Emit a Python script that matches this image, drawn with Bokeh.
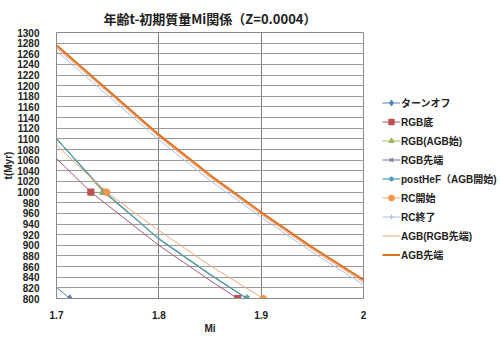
from bokeh.plotting import figure
from bokeh.layouts import row
from bokeh.models import Range1d, FixedTicker, Legend, LegendItem
from bokeh.embed import file_html
from bokeh.resources import INLINE

# ---------------- data ----------------
title_text = "年齢t-初期質量Mi関係（Z=0.0004）"
x_label = "Mi"
y_label = "t(Myr)"
x_ticks = [1.7, 1.8, 1.9, 2.0]
y_ticks = list(range(800, 1301, 20))

names = ["ターンオフ", "RGB底", "RGB(AGB始)", "RGB先端", "postHeF（AGB開始)",
         "RC開始", "RC終了", "AGB(RGB先端)", "AGB先端"]

# curve points (Mi, t)
turnoff_mi = [1.700, 1.713]
turnoff_t = [821, 800]
rgb_base_mi = [1.700, 1.7336, 1.800, 1.850, 1.877]
rgb_base_t = [1063, 1000, 900, 834, 800]
rgb_agb_mi = [1.700, 1.7455, 1.800, 1.850, 1.886]
rgb_agb_t = [1101, 1000, 913, 846, 800]
rgb_tip_mi = [1.700, 1.747, 1.800, 1.850, 1.886]
rgb_tip_t = [1100, 1000, 912, 845, 800]
posthef_mi = [1.700, 1.7475, 1.800, 1.850, 1.886]
posthef_t = [1100, 1000, 912, 845, 800]
rc_start_mi = [1.700, 1.749, 1.800, 1.850, 1.902]
rc_start_t = [1088, 1000, 928, 862, 800]
upper_mi = [1.70, 1.75, 1.80, 1.85, 1.90, 1.95, 2.00]
rc_end_t = [1265, 1182, 1098, 1022, 953, 887, 826]
agb_rgbtip_t = [1271, 1188, 1104, 1028, 958, 892, 831]
agb_tip_t = [1276, 1192, 1108, 1032, 962, 896, 835]

# data-point markers (Mi, t)
turnoff_mk_mi, turnoff_mk_t = [1.713], [800]
rgb_base_mk_mi, rgb_base_mk_t = [1.7336, 1.877], [1000, 800]
rgb_agb_mk_mi, rgb_agb_mk_t = [1.7455, 1.886], [1000, 800]
rgb_tip_mk_mi, rgb_tip_mk_t = [1.747, 1.886], [1000, 800]
posthef_mk_mi, posthef_mk_t = [1.7475, 1.886], [1000, 800]
rc_start_mk_mi, rc_start_mk_t = [1.749, 1.902], [1000, 800]

# ---------------- main figure ----------------
FONT = "Liberation Sans, Noto Sans CJK JP"
TXT = "#222222"
p = figure(width=372, height=339, output_backend="svg", toolbar_location=None,
           x_range=Range1d(1.7, 2.0), y_range=Range1d(800, 1300),
           min_border_left=53, min_border_right=9, min_border_top=32,
           min_border_bottom=41, background_fill_color="white",
           border_fill_color="white", outline_line_color="#8a8a8a")

p.title.text = title_text
p.title.align = "center"
p.title.text_font = "Noto Sans CJK JP"
p.title.text_font_size = "13px"
p.title.text_font_style = "bold"
p.title.text_color = TXT
p.title.standoff = 10

p.xaxis.ticker = FixedTicker(ticks=x_ticks)
p.xaxis.major_label_overrides = {2.0: "2"}
p.yaxis.ticker = FixedTicker(ticks=y_ticks)
for ax in (p.xaxis, p.yaxis):
    ax.major_tick_line_color = None
    ax.minor_tick_line_color = None
    ax.axis_line_color = "#8a8a8a"
    ax.major_label_text_font = FONT
    ax.major_label_text_font_size = "10px"
    ax.major_label_text_font_style = "bold"
    ax.major_label_text_color = TXT
    ax.axis_label_text_font = FONT
    ax.axis_label_text_font_size = "10px"
    ax.axis_label_text_font_style = "bold"
    ax.axis_label_text_color = TXT
p.yaxis.major_label_standoff = 11
p.xaxis.major_label_standoff = 6
p.xaxis.axis_label = x_label
p.xaxis.axis_label_standoff = 1
p.yaxis.axis_label = y_label
p.yaxis.axis_label_standoff = 0

p.xgrid.grid_line_color = "#808080"
p.ygrid.grid_line_color = "#9a9a9a"

# ---------------- legend figure ----------------
lg = figure(width=128, height=339, output_backend="svg", toolbar_location=None,
            x_range=Range1d(0, 1), y_range=Range1d(0, 1),
            x_axis_location=None, y_axis_location=None,
            min_border_left=0, min_border_right=0, min_border_top=0,
            min_border_bottom=0, outline_line_color=None,
            background_fill_color="white", border_fill_color="white")
lg.xgrid.visible = False
lg.ygrid.visible = False

items = []
OFF = [-10.0]  # off-frame dummy point so that the legend glyph is drawn

def series(name, xs, ys, color, width, mk_x, mk_y, marker, msize, mk_color=None):
    p.line(xs, ys, line_color=color, line_width=width)
    rs = [lg.line(OFF, OFF, line_color=color, line_width=width)]
    if marker is not None:
        c = mk_color or color
        kw = dict(marker=marker, size=msize, line_color=c, fill_color=c, line_width=1.2)
        if len(mk_x):
            p.scatter(mk_x, mk_y, **kw)
        rs.append(lg.scatter(OFF, OFF, **kw))
    items.append(LegendItem(label=name, renderers=rs))

series(names[0], turnoff_mi, turnoff_t, "#4f81bd", 1, turnoff_mk_mi, turnoff_mk_t, "diamond", 7)
series(names[1], rgb_base_mi, rgb_base_t, "#a8567a", 1, rgb_base_mk_mi, rgb_base_mk_t, "square", 6, "#c0504d")
series(names[2], rgb_agb_mi, rgb_agb_t, "#9bbb59", 1, rgb_agb_mk_mi, rgb_agb_mk_t, "triangle", 7)
series(names[3], rgb_tip_mi, rgb_tip_t, "#8064a2", 1, rgb_tip_mk_mi, rgb_tip_mk_t, "x", 6)
series(names[4], posthef_mi, posthef_t, "#4b9fb6", 1.2, posthef_mk_mi, posthef_mk_t, "asterisk", 7)
series(names[5], rc_start_mi, rc_start_t, "#f0a878", 1, rc_start_mk_mi, rc_start_mk_t, "circle", 6, "#f79646")
series(names[6], upper_mi, rc_end_t, "#a8c2e6", 1, [], [], "cross", 6)
series(names[7], upper_mi, agb_rgbtip_t, "#eaa27c", 1, [], [], None, 0)
series(names[8], upper_mi, agb_tip_t, "#e2701c", 2, [], [], "dash", 8)

legend = Legend(items=items, location=(10, 36), orientation="vertical",
                border_line_color=None, background_fill_alpha=0, padding=0, margin=0,
                spacing=4, glyph_width=18, glyph_height=13, label_height=13,
                label_standoff=1, label_text_font=FONT, label_text_font_size="10px",
                label_text_font_style="bold", label_text_color=TXT)
lg.add_layout(legend)

open("out.html", "w").write(file_html(row(p, lg), INLINE))
